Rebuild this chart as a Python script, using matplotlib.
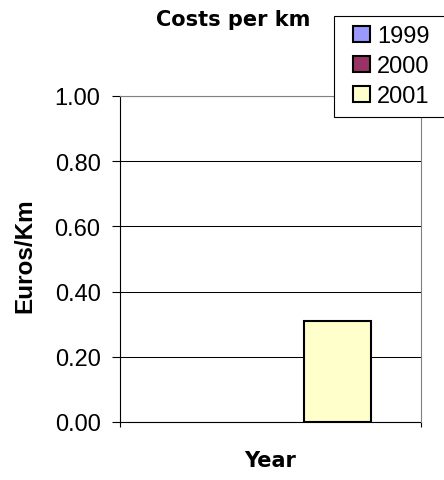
import numpy as np
import matplotlib
matplotlib.use('Agg')
import matplotlib.pyplot as plt
from matplotlib.patches import Rectangle

# cost per km for each year (no figures for 1999 and 2000)
years = ['1999', '2000', '2001']
costs = [np.nan, np.nan, 0.31]
colors = ['#9999FF', '#993366', '#FFFFCC']
yticks = [0.0, 0.2, 0.4, 0.6, 0.8, 1.0]

plt.rcParams['font.family'] = ['Liberation Sans', 'DejaVu Sans']

W, H = 444, 481
fig = plt.figure(figsize=(W / 100, H / 100), dpi=100)
ax = fig.add_axes([120 / W, 1 - 423 / H, 301 / W, 326 / H])

# one category, three clustered bars
offsets = np.arange(len(years)) - 1
bars = []
for x, yr, val, col in zip(offsets, years, costs, colors):
    b = ax.bar(x, val, width=1.0, color=col, edgecolor='black', linewidth=1.5, label=yr, zorder=3)
    bars.append(b)

ax.set_xlim(-2.25, 2.25)
ax.set_ylim(0, 1.0)
ax.set_yticks(yticks)
ax.set_yticklabels(['%.2f' % t for t in yticks], fontsize=17)
ax.set_xticks([-2.25, 2.25])
ax.set_xticklabels([])
ax.tick_params(axis='y', direction='out', length=5.5, width=0.8, pad=8.5)
ax.tick_params(axis='x', direction='out', length=3.5, width=0.8)
ax.grid(axis='y', color='black', linewidth=0.75)

for side in ['right', 'top']:
    ax.spines[side].set_color('#808080')
    ax.spines[side].set_zorder(4)
for side in ['left', 'bottom']:
    ax.spines[side].set_color('black')

fig.text(25 / W, 1 - 256 / H, 'Euros/Km', fontsize=17.5, fontweight='bold', rotation=90,
         ha='center', va='center')
fig.text(270 / W, 1 - 461 / H, 'Year', fontsize=15, fontweight='bold', family='DejaVu Sans',
         ha='center', va='center')
fig.text(233 / W, 1 - 20 / H, 'Costs per km', fontsize=15, fontweight='bold', family='DejaVu Sans',
         ha='center', va='center')

# legend box runs off the right edge
fig.patches.append(Rectangle((334 / W, 1 - 118 / H), 115 / W, 101 / H, transform=fig.transFigure,
                             facecolor='white', edgecolor='black', linewidth=0.8, zorder=4))
leg = fig.legend(handles=bars, labels=years, loc='upper left', bbox_to_anchor=(351 / W, 1 - 24 / H),
                 fontsize=17, frameon=False,
                 handlelength=0.7, handleheight=0.7, handletextpad=0.3,
                 borderpad=0.1, labelspacing=0.34, borderaxespad=0)
leg.set_zorder(5)
for h in leg.legend_handles:
    h.set_linewidth(1.5)

fig.savefig('out.png', dpi=100)
